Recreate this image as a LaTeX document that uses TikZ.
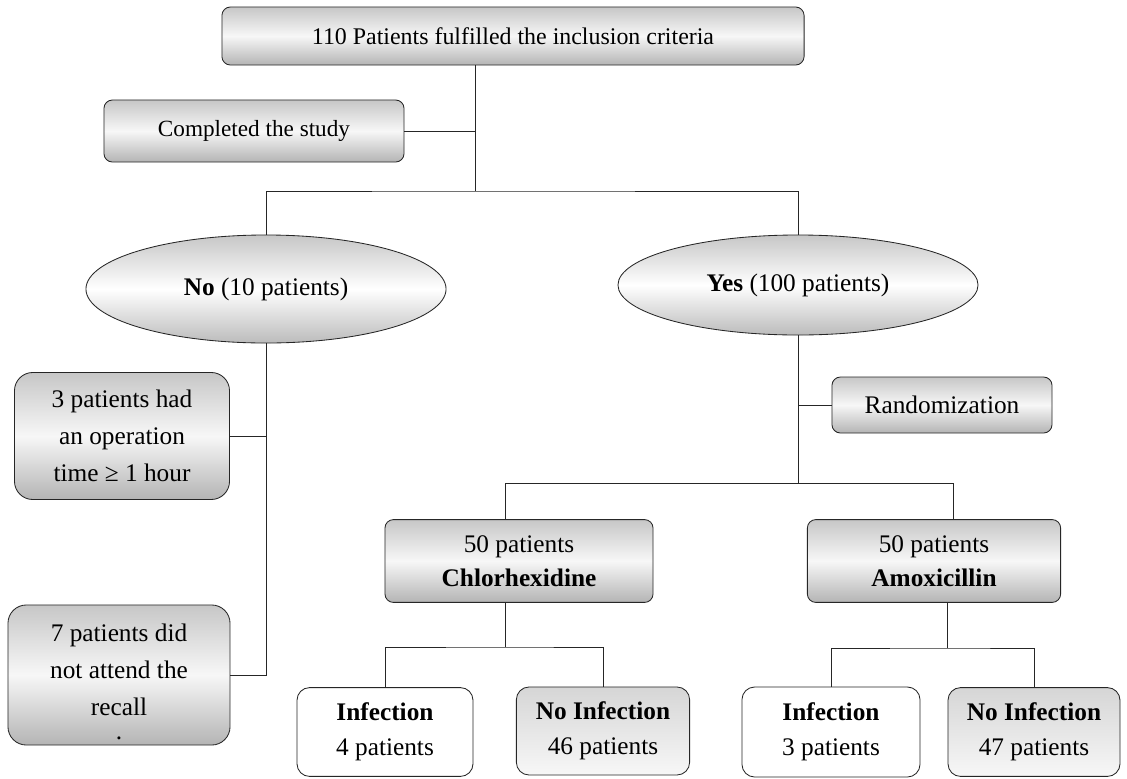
\documentclass[tikz,border=0pt]{standalone}
\usepackage{fontspec}
\setmainfont{Liberation Serif}
\usetikzlibrary{shapes.geometric}
\definecolor{FlowInk}{HTML}{262626}
\definecolor{FlowShade}{HTML}{B4B4B4}
\definecolor{FlowMist}{HTML}{F7F7F7}

\begin{document}
\begin{tikzpicture}[x=0.025cm, y=-0.025cm,
  stage/.style={rounded corners=6pt, draw=FlowInk, semithick,
                align=center, inner sep=2pt,
                font=\fontsize{18}{24}\selectfont,
                top color=FlowShade!75, bottom color=FlowShade,
                middle color=FlowMist},
  dropout/.style={stage, rounded corners=13pt,
                  font=\fontsize{18}{26.5}\selectfont},
  answer/.style={ellipse, draw=FlowInk, semithick, inner sep=0pt,
                 minimum width=9cm, font=\fontsize{18}{24}\selectfont,
                 top color=FlowShade!75, bottom color=FlowShade!90,
                 middle color=white},
  outcome/.style={rounded corners=9pt, draw=FlowInk, semithick,
                  align=center, inner sep=2pt, fill=white,
                  font=\fontsize{18}{25}\selectfont},
  nooutcome/.style={outcome, top color=FlowShade!55, bottom color=FlowMist},
  link/.style={draw=FlowInk, thin}
]
\useasboundingbox (0,0) rectangle (1127,778);

\node[stage, minimum width=14.55cm, minimum height=1.45cm,
      font=\fontsize{17}{22}\selectfont] (top) at (513,36)
  {110 Patients fulfilled the inclusion criteria};
\node[stage, minimum width=7.5cm, minimum height=1.55cm,
      font=\fontsize{16.5}{22}\selectfont] (done) at (254,131)
  {Completed the study};

\node[answer, minimum height=2.7cm] (no) at (266,289)
  {\textbf{No} (10 patients)};
\node[answer, minimum height=2.5cm] (yes) at (798,285)
  {\textbf{Yes} (100 patients)};

\node[dropout, minimum width=5.375cm, minimum height=3.175cm] (left1) at (122,436)
  {3 patients had\\an operation\\time ≥ 1 hour};
\node[dropout, minimum width=5.55cm, minimum height=3.5cm] (left2) at (119,675)
  {\rule{0pt}{22pt}7 patients did\\not attend the\\recall\\[-10pt].};

\node[stage, minimum width=5.5cm, minimum height=1.4cm] (rand) at (942,405)
  {Randomization};

\node[stage, minimum width=6.7cm, minimum height=2.07cm] (chl) at (519,561)
  {50 patients\\\textbf{Chlorhexidine}};
\node[stage, minimum width=6.33cm, minimum height=2.07cm] (amox) at (934,561)
  {50 patients\\\textbf{Amoxicillin}};

\node[outcome, minimum width=4.4cm, minimum height=2.22cm] (inf1) at (385,732)
  {\textbf{Infection}\\4 patients};
\node[nooutcome, minimum width=4.33cm, minimum height=2.2cm] (noinf1) at (603,731)
  {\textbf{No Infection}\\46 patients};
\node[outcome, minimum width=4.45cm, minimum height=2.25cm] (inf2) at (831,732)
  {\textbf{Infection}\\3 patients};
\node[nooutcome, minimum width=4.3cm, minimum height=2.22cm] (noinf2) at (1034,732)
  {\textbf{No Infection}\\47 patients};

\coordinate (split) at (475,191);
\draw[link] (top.south -| split) -- (split);
\draw[link] (done.east) -- (done.east -| split);
\draw[link] (no.north) |- (split) -| (yes.north);

\draw[link] (no.south) -- (no.south |- left2.east) -- (left2.east);
\draw[link] (left1.east) -- (left1.east -| no.south);

\coordinate (arms) at (798,483);
\coordinate (armA) at (505,483);
\coordinate (armB) at (953,483);
\draw[link] (yes.south) -- (arms);
\draw[link] (rand.west) -- (rand.west -| arms);
\draw[link] (armA |- chl.north) -- (armA) -- (armB) -- (armB |- amox.north);

\coordinate (chlfork) at (505,647);
\coordinate (amoxfork) at (947,648);
\draw[link] (chl.south -| chlfork) -- (chlfork);
\draw[link] (inf1.north) |- (chlfork) -| (noinf1.north);
\draw[link] (amox.south -| amoxfork) -- (amoxfork);
\draw[link] (inf2.north) |- (amoxfork) -| (noinf2.north);
\end{tikzpicture}
\end{document}
